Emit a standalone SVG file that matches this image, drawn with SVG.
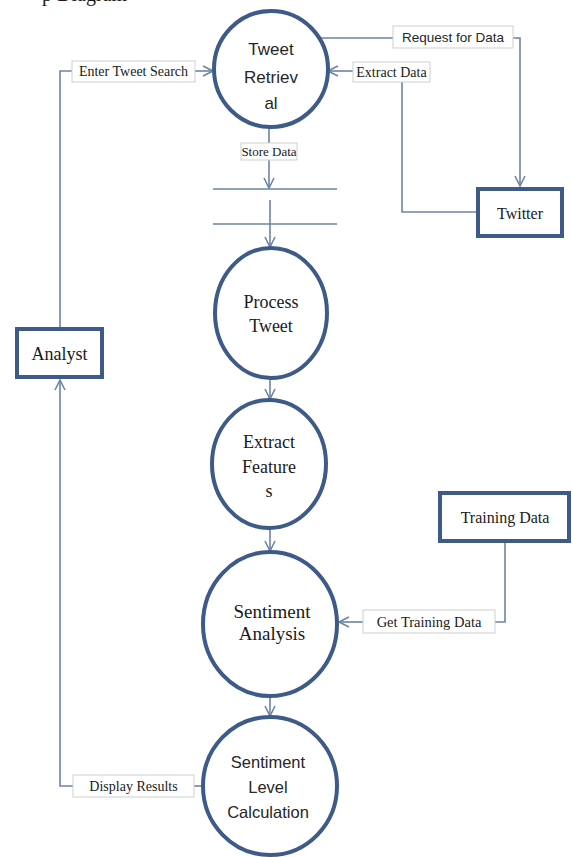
<svg xmlns="http://www.w3.org/2000/svg" width="572" height="857" viewBox="0 0 572 857">
<style>
.proc{fill:#fff;stroke:#3e5a88;stroke-width:4}
.ent{fill:#fff;stroke:#3e5a88;stroke-width:4}
.lbl{fill:#fff;stroke:#cfcfcf;stroke-width:1}
.con{fill:none;stroke:#6d84a3;stroke-width:1.6}
.serif{font-family:"Liberation Serif","Times New Roman",serif;fill:#1a1a1a;text-anchor:middle}
.sans{font-family:"Liberation Sans",Arial,sans-serif;fill:#262626;text-anchor:middle}
</style>
<defs>
<marker id="arr" viewBox="0 0 12 12" refX="11" refY="6" markerWidth="12" markerHeight="12" markerUnits="userSpaceOnUse" orient="auto">
<path d="M1,1 L11,6 L1,11" fill="none" stroke="#6d84a3" stroke-width="1.6"/>
</marker>
</defs>
<rect width="572" height="857" fill="#fff"/>
<text x="42" y="1" class="serif" style="text-anchor:start;font-size:20px">p Diagram</text>

<g id="connectors">
<polyline class="con" points="60,328 60,71 72,71"/>
<line class="con" x1="195" y1="71" x2="213" y2="71" marker-end="url(#arr)"/>
<polyline class="con" points="312,38 393,38"/>
<polyline class="con" points="513,38 520,38 520,186" marker-end="url(#arr)"/>
<polyline class="con" points="477,212 402,212 402,82"/>
<line class="con" x1="353" y1="71" x2="328" y2="71" marker-end="url(#arr)"/>
<line class="con" x1="269" y1="127" x2="269" y2="143"/>
<line class="con" x1="269" y1="160" x2="269" y2="188" marker-end="url(#arr)"/>
<line class="con" x1="213" y1="189" x2="337" y2="189"/>
<line class="con" x1="213" y1="224" x2="337" y2="224"/>
<line class="con" x1="270" y1="200" x2="270" y2="247" marker-end="url(#arr)"/>
<line class="con" x1="270" y1="378" x2="270" y2="399" marker-end="url(#arr)"/>
<line class="con" x1="270" y1="528" x2="270" y2="551" marker-end="url(#arr)"/>
<line class="con" x1="270" y1="697" x2="270" y2="716" marker-end="url(#arr)"/>
<polyline class="con" points="505,542 505,622 495,622"/>
<line class="con" x1="363" y1="622" x2="339" y2="622" marker-end="url(#arr)"/>
<line class="con" x1="203" y1="786" x2="194" y2="786"/>
<polyline class="con" points="73,786 60,786 60,380" marker-end="url(#arr)"/>
</g>

<g id="lbl-enter">
<rect class="lbl" x="72" y="61" width="123" height="21"/>
<text x="133.5" y="76" class="serif" style="font-size:14px">Enter Tweet Search</text>
</g>
<g id="lbl-request">
<rect class="lbl" x="393" y="26" width="120" height="22"/>
<text x="453" y="42" class="sans" style="font-size:13.5px">Request for Data</text>
</g>
<g id="lbl-extract">
<rect class="lbl" x="353" y="62" width="77" height="20"/>
<text x="391.5" y="77" class="serif" style="font-size:14px">Extract Data</text>
</g>
<g id="lbl-store">
<rect class="lbl" x="241" y="143" width="56" height="17"/>
<text x="269" y="156" class="serif" style="font-size:13px">Store Data</text>
</g>
<g id="lbl-training">
<rect class="lbl" x="363" y="610" width="132" height="23"/>
<text x="429" y="627" class="serif" style="font-size:14.5px">Get Training Data</text>
</g>
<g id="lbl-display">
<rect class="lbl" x="73" y="775" width="121" height="22"/>
<text x="133.5" y="791" class="serif" style="font-size:14px">Display Results</text>
</g>

<g id="tweet-retrieval">
<ellipse class="proc" cx="271" cy="69" rx="57" ry="58"/>
<text class="sans" style="font-size:17px"><tspan x="271" y="55">Tweet</tspan><tspan x="271" y="83">Retriev</tspan><tspan x="271" y="109">al</tspan></text>
</g>
<g id="process-tweet">
<ellipse class="proc" cx="271" cy="313" rx="56" ry="65"/>
<text class="serif" style="font-size:18px"><tspan x="271" y="308">Process</tspan><tspan x="271" y="332">Tweet</tspan></text>
</g>
<g id="extract-features">
<ellipse class="proc" cx="269" cy="464" rx="57" ry="64"/>
<text class="serif" style="font-size:18px"><tspan x="269" y="448">Extract</tspan><tspan x="269" y="473">Feature</tspan><tspan x="269" y="497">s</tspan></text>
</g>
<g id="sentiment-analysis">
<ellipse class="proc" cx="270" cy="624" rx="67" ry="72"/>
<text class="serif" style="font-size:19px"><tspan x="272" y="618">Sentiment</tspan><tspan x="272" y="640">Analysis</tspan></text>
</g>
<g id="sentiment-level">
<ellipse class="proc" cx="270" cy="786" rx="67" ry="69"/>
<text class="sans" style="font-size:16.5px"><tspan x="268" y="768">Sentiment</tspan><tspan x="268" y="793">Level</tspan><tspan x="268" y="818">Calculation</tspan></text>
</g>
<g id="analyst">
<rect class="ent" x="17" y="329" width="85" height="48"/>
<text x="59.5" y="360" class="serif" style="font-size:18px">Analyst</text>
</g>
<g id="twitter">
<rect class="ent" x="478" y="189" width="84" height="47"/>
<text x="520" y="219" class="serif" style="font-size:16px">Twitter</text>
</g>
<g id="training-data">
<rect class="ent" x="440" y="493" width="129" height="48"/>
<text x="505" y="523" class="serif" style="font-size:16px">Training Data</text>
</g>
</svg>
